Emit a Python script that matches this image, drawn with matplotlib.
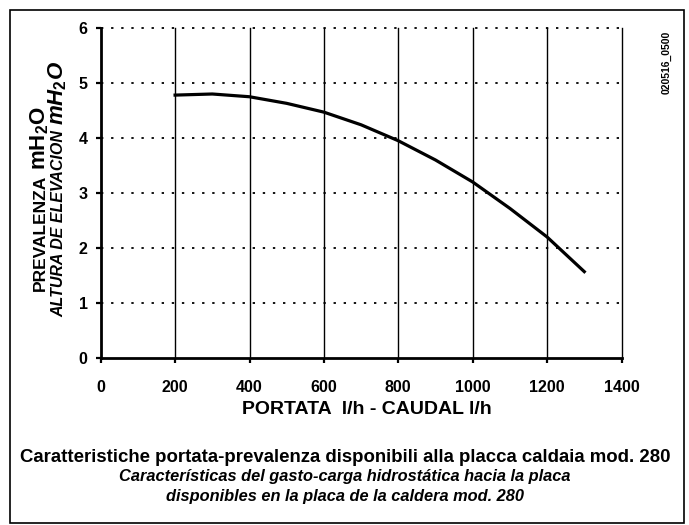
import matplotlib.pyplot as plt
from matplotlib.patches import Rectangle

plt.rcParams['font.family'] = ['Liberation Sans', 'DejaVu Sans']
plt.rcParams['mathtext.fontset'] = 'custom'
plt.rcParams['mathtext.rm'] = 'Liberation Sans:bold'
plt.rcParams['mathtext.bf'] = 'Liberation Sans:bold'
plt.rcParams['mathtext.it'] = 'Liberation Sans:italic:bold'

# pump curve
flow = [200, 300, 400, 500, 600, 700, 800, 900, 1000, 1100, 1200, 1300]
head = [4.78, 4.80, 4.75, 4.63, 4.47, 4.24, 3.95, 3.60, 3.20, 2.72, 2.20, 1.57]
xticks = [0, 200, 400, 600, 800, 1000, 1200, 1400]
yticks = [0, 1, 2, 3, 4, 5, 6]

W, H = 689, 525
fig = plt.figure(figsize=(6.89, 5.25), dpi=100)
ax = fig.add_axes([100.7 / W, 1 - 358 / H, 520.8 / W, 330 / H])

ax.set_xlim(0, 1400)
ax.set_ylim(0, 6)
ax.set_xticks(xticks)
ax.set_yticks(yticks)
ax.tick_params(labelsize=11.5, width=1.6, length=3.5)
ax.tick_params(axis='x', pad=12)
ax.tick_params(axis='y', pad=6)
for lab in ax.get_xticklabels() + ax.get_yticklabels():
    lab.set_fontweight('bold')

# grid: solid verticals, dotted horizontals
for x in xticks[1:]:
    ax.axvline(x, color='black', lw=1.0, zorder=1, clip_on=False)
for y in yticks[1:]:
    ax.axhline(y, color='black', lw=1.3, ls=(0, (1.3, 4.3)), zorder=1, clip_on=False)

for s in ['top', 'right']:
    ax.spines[s].set_visible(False)
ax.spines['left'].set_linewidth(2)
ax.spines['bottom'].set_linewidth(2)

ax.plot(flow, head, color='black', lw=2.3, zorder=3)

fig.text(367 / W, 1 - 410 / H, 'PORTATA  l/h - CAUDAL l/h', ha='center', va='center',
         fontsize=14, fontweight='bold')


# y label in two parts each line: words, then a larger unit
def vlabel(xb, yb, words, unit, italic, size):
    st = 'italic' if italic else 'normal'
    t1 = fig.text(xb / W, 1 - yb / H, words, rotation=90, rotation_mode='anchor',
                  ha='left', va='baseline', fontsize=size, fontweight='bold', style=st)
    fig.canvas.draw()
    bb = t1.get_window_extent()
    fig.text(xb / W, (bb.y1 + 5) / H, unit, rotation=90, rotation_mode='anchor',
             ha='left', va='baseline', fontsize=16, fontweight='bold', style=st)


vlabel(45, 291, 'PREVALENZA', '$\\mathbf{mH_2O}$', False, 12.5)
vlabel(63, 317, 'ALTURA DE ELEVACION', '$\\mathit{mH_2O}$', True, 11.5)

fig.text(667 / W, 1 - 62 / H, '020516_0500', rotation=90, ha='center', va='center',
         fontsize=7.5, fontweight='bold')

fig.text(345 / W, 1 - 457 / H, 'Caratteristiche portata-prevalenza disponibili alla placca caldaia mod. 280',
         ha='center', va='center', fontsize=13.4, fontweight='bold')
fig.text(345 / W, 1 - 477 / H, 'Características del gasto-carga hidrostática hacia la placa',
         ha='center', va='center', fontsize=11.8, fontweight='bold', style='italic')
fig.text(345 / W, 1 - 497 / H, 'disponibles en la placa de la caldera mod. 280',
         ha='center', va='center', fontsize=11.8, fontweight='bold', style='italic')

fig.patches.append(Rectangle((10 / W, 2 / H), 674 / W, 513 / H, transform=fig.transFigure,
                             fill=False, edgecolor='black', lw=1.2))

fig.savefig('out.png', dpi=100)
